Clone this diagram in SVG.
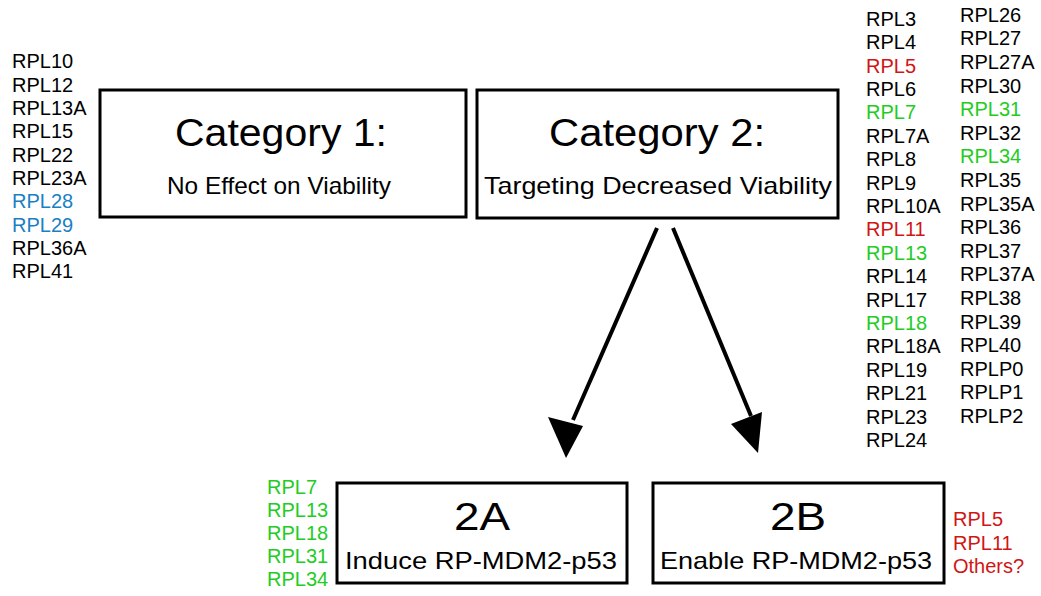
<svg xmlns="http://www.w3.org/2000/svg" width="1041" height="596" viewBox="0 0 1041 596">
<defs>
<style>
.box{fill:#fff;stroke:#000;stroke-width:3}
.t{font-family:"Liberation Sans",Arial,sans-serif;fill:#000}
.big{font-size:38px;text-anchor:middle}
.sub{font-size:24px;text-anchor:middle}
.lst{font-family:"Liberation Sans",Arial,sans-serif;font-size:20px;fill:#000}
.b{fill:#1a80c4}
.g{fill:#22cc22}
.r{fill:#d01515}
.conn{stroke:#000;stroke-width:4;fill:none}
</style>
</defs>
<rect width="1041" height="596" fill="#fff"/>

<g id="cat1">
<rect class="box" x="100" y="90" width="366" height="127"/>
<text class="t big" x="281" y="146" textLength="212" lengthAdjust="spacingAndGlyphs">Category 1:</text>
<text class="t sub" x="279" y="194" textLength="224" lengthAdjust="spacingAndGlyphs">No Effect on Viability</text>
</g>
<g id="cat2">
<rect class="box" x="477" y="90" width="361" height="128"/>
<text class="t big" x="657" y="146" textLength="216" lengthAdjust="spacingAndGlyphs">Category 2:</text>
<text class="t sub" x="658" y="194" textLength="348" lengthAdjust="spacingAndGlyphs">Targeting Decreased Viability</text>
</g>
<g id="n2A">
<rect class="box" x="337" y="483" width="290" height="100"/>
<text class="t big" x="482" y="530" textLength="56" lengthAdjust="spacingAndGlyphs">2A</text>
<text class="t sub" x="481" y="569" textLength="272" lengthAdjust="spacingAndGlyphs">Induce RP-MDM2-p53</text>
</g>
<g id="n2B">
<rect class="box" x="653" y="483" width="291" height="100"/>
<text class="t big" x="798" y="530" textLength="56" lengthAdjust="spacingAndGlyphs">2B</text>
<text class="t sub" x="796" y="569" textLength="272" lengthAdjust="spacingAndGlyphs">Enable RP-MDM2-p53</text>
</g>

<g id="connectors">
<line class="conn" x1="657" y1="228" x2="573" y2="420"/>
<polygon points="566,458 548,417 583,426" fill="#000"/>
<line class="conn" x1="673" y1="228" x2="751" y2="416"/>
<polygon points="758,453 731,424 762,412" fill="#000"/>
</g>

<g id="list-cat1" class="lst">
<text x="12" y="68">RPL10</text>
<text x="12" y="91.5">RPL12</text>
<text x="12" y="115">RPL13A</text>
<text x="12" y="138">RPL15</text>
<text x="12" y="161.5">RPL22</text>
<text x="12" y="185">RPL23A</text>
<text x="12" y="208" class="b">RPL28</text>
<text x="12" y="231.5" class="b">RPL29</text>
<text x="12" y="255">RPL36A</text>
<text x="12" y="278">RPL41</text>
</g>

<g id="list-cat2-col1" class="lst">
<text x="866" y="25.5">RPL3</text>
<text x="866" y="49">RPL4</text>
<text x="866" y="72.5" class="r">RPL5</text>
<text x="866" y="96">RPL6</text>
<text x="866" y="119" class="g">RPL7</text>
<text x="866" y="142.5">RPL7A</text>
<text x="866" y="166">RPL8</text>
<text x="866" y="189.5">RPL9</text>
<text x="866" y="212.5">RPL10A</text>
<text x="866" y="236" class="r">RPL11</text>
<text x="866" y="259.5" class="g">RPL13</text>
<text x="866" y="283">RPL14</text>
<text x="866" y="306.5">RPL17</text>
<text x="866" y="330" class="g">RPL18</text>
<text x="866" y="353">RPL18A</text>
<text x="866" y="376.5">RPL19</text>
<text x="866" y="400">RPL21</text>
<text x="866" y="423.5">RPL23</text>
<text x="866" y="447">RPL24</text>
</g>

<g id="list-cat2-col2" class="lst">
<text x="960" y="21.5">RPL26</text>
<text x="960" y="45">RPL27</text>
<text x="960" y="69">RPL27A</text>
<text x="960" y="92.5">RPL30</text>
<text x="960" y="116" class="g">RPL31</text>
<text x="960" y="139.5">RPL32</text>
<text x="960" y="163" class="g">RPL34</text>
<text x="960" y="187">RPL35</text>
<text x="960" y="210.5">RPL35A</text>
<text x="960" y="234">RPL36</text>
<text x="960" y="257.5">RPL37</text>
<text x="960" y="281">RPL37A</text>
<text x="960" y="305">RPL38</text>
<text x="960" y="328.5">RPL39</text>
<text x="960" y="352">RPL40</text>
<text x="960" y="375.5">RPLP0</text>
<text x="960" y="399">RPLP1</text>
<text x="960" y="423">RPLP2</text>
</g>

<g id="list-2A" class="lst">
<text x="267" y="494" class="g">RPL7</text>
<text x="267" y="517" class="g">RPL13</text>
<text x="267" y="540" class="g">RPL18</text>
<text x="267" y="563" class="g">RPL31</text>
<text x="267" y="586" class="g">RPL34</text>
</g>

<g id="list-2B" class="lst">
<text x="953" y="526" class="r">RPL5</text>
<text x="953" y="550" class="r">RPL11</text>
<text x="953" y="573" class="r">Others?</text>
</g>
</svg>
